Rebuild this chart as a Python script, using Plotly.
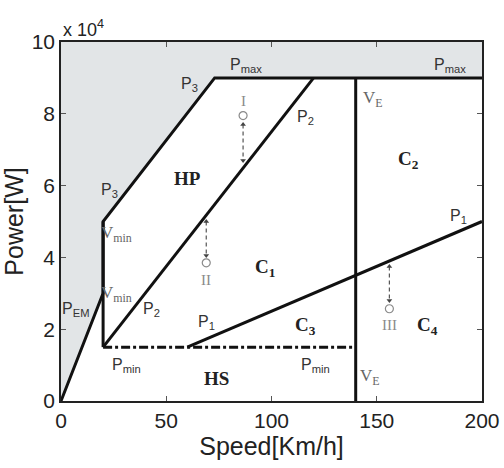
import plotly.graph_objects as go

# ---- data ----
env_x = [0, 20, 20, 73, 200]
env_y = [0, 30000, 50000, 90000, 90000]
shade_x = [0, 20, 20, 73, 200, 200, 0]
shade_y = [0, 30000, 50000, 90000, 90000, 100000, 100000]
vmin_x = [20, 20]
vmin_y = [15000, 50000]
p2_x = [20, 120]
p2_y = [15000, 90000]
p1_x = [60, 200]
p1_y = [15000, 50000]
ve_x = [140, 140]
ve_y = [0, 90000]
pmin_x = [20, 140]
pmin_y = [15000, 15000]

arrow_x = [86.5, 69, 156]
arrow_top = [77000, 50000, 37500]
arrow_bot = [67000, 40500, 28000]
circle_y = [79500, 38500, 25700]
arrow_labels = ["I", "II", "III"]
arrow_label_y = [83500, 33600, 21200]

x_ticks = [0, 50, 100, 150, 200]
y_ticks = [0, 20000, 40000, 60000, 80000, 100000]
y_ticktext = ["0", "2", "4", "6", "8", "10"]

sans_labels = [
    ("P<sub>max</sub>", 88, 93400),
    ("P<sub>max</sub>", 185, 93400),
    ("P<sub>3</sub>", 61, 88300),
    ("P<sub>3</sub>", 23, 58500),
    ("P<sub>2</sub>", 116, 79000),
    ("P<sub>2</sub>", 43, 25400),
    ("P<sub>1</sub>", 69, 21800),
    ("P<sub>1</sub>", 189, 51500),
    ("P<sub>EM</sub>", 7, 25400),
    ("P<sub>min</sub>", 31, 10000),
    ("P<sub>min</sub>", 121, 10000),
]
serif_grey_labels = [
    ("V<sub>min</sub>", 26.5, 46500),
    ("V<sub>min</sub>", 26.5, 29800),
    ("V<sub>E</sub>", 148, 84000),
    ("V<sub>E</sub>", 147, 6800),
]
region_labels = [
    ("HP", 60, 62000),
    ("C<sub>1</sub>", 97, 37000),
    ("C<sub>2</sub>", 165, 67000),
    ("C<sub>3</sub>", 116, 20800),
    ("C<sub>4</sub>", 174, 20800),
    ("HS", 74, 6400),
]

fig = go.Figure()
fig.add_trace(go.Scatter(x=shade_x, y=shade_y, fill="toself", fillcolor="#e2e5e7",
                         line=dict(width=0), mode="lines", hoverinfo="skip"))
line_style = dict(color="#111111", width=3)
for xs, ys in [(env_x, env_y), (vmin_x, vmin_y), (p2_x, p2_y), (p1_x, p1_y), (ve_x, ve_y)]:
    fig.add_trace(go.Scatter(x=xs, y=ys, mode="lines", line=line_style))
fig.add_trace(go.Scatter(x=pmin_x, y=pmin_y, mode="lines",
                         line=dict(color="#111111", width=3, dash="dashdot")))

grey = "#8a8a8a"
for ax, t, b, c in zip(arrow_x, arrow_top, arrow_bot, circle_y):
    fig.add_trace(go.Scatter(x=[ax, ax], y=[t, b], mode="lines",
                             line=dict(color="#555555", width=1.2, dash="4px,3px")))
    fig.add_trace(go.Scatter(x=[ax, ax], y=[t, b], mode="markers",
                             marker=dict(symbol=["triangle-up", "triangle-down"], size=5,
                                         color="#444444")))
    fig.add_trace(go.Scatter(x=[ax], y=[c], mode="markers",
                             marker=dict(symbol="circle-open", size=8, color=grey,
                                         line=dict(width=1.2))))

for txt, x, y in zip(arrow_labels, arrow_x, arrow_label_y):
    fig.add_annotation(x=x, y=y, text=txt, showarrow=False,
                       font=dict(family="Liberation Serif", size=15, color=grey))
for txt, x, y in sans_labels:
    fig.add_annotation(x=x, y=y, text=txt, showarrow=False,
                       font=dict(family="Liberation Sans", size=16, color="#333333"))
for txt, x, y in serif_grey_labels:
    fig.add_annotation(x=x, y=y, text=txt, showarrow=False,
                       font=dict(family="Liberation Serif", size=17, color="#666666"))
for txt, x, y in region_labels:
    fig.add_annotation(x=x, y=y, text="<b>" + txt + "</b>", showarrow=False,
                       font=dict(family="Liberation Serif", size=19, color="#222222"))

fig.add_annotation(x=0.0, y=1.0, xref="paper", yref="paper", xanchor="left", yanchor="bottom",
                   text="x 10<sup>4</sup>", showarrow=False,
                   font=dict(family="Liberation Sans", size=18, color="#222222"))

axis_common = dict(showgrid=False, zeroline=False, showline=True, linecolor="#222222",
                   linewidth=1.5, mirror="ticks", ticks="inside", ticklen=5,
                   automargin=False,
                   tickcolor="#555555", tickfont=dict(family="Liberation Sans", size=21,
                                                      color="#222222"))
fig.update_xaxes(range=[0, 200], tickvals=x_ticks,
                 title=dict(text="Speed[Km/h]", font=dict(family="Liberation Sans", size=25,
                                                           color="#222222"), standoff=2),
                 **axis_common)
fig.update_yaxes(range=[0, 100000], tickvals=y_ticks, ticktext=y_ticktext,
                 title=dict(text="Power[W]", font=dict(family="Liberation Sans", size=25,
                                                        color="#222222"), standoff=4),
                 **axis_common)
fig.update_layout(width=504, height=468, showlegend=False,
                  margin=dict(l=61, r=22, t=42, b=67),
                  plot_bgcolor="white", paper_bgcolor="white")
fig.write_html("out.html")
